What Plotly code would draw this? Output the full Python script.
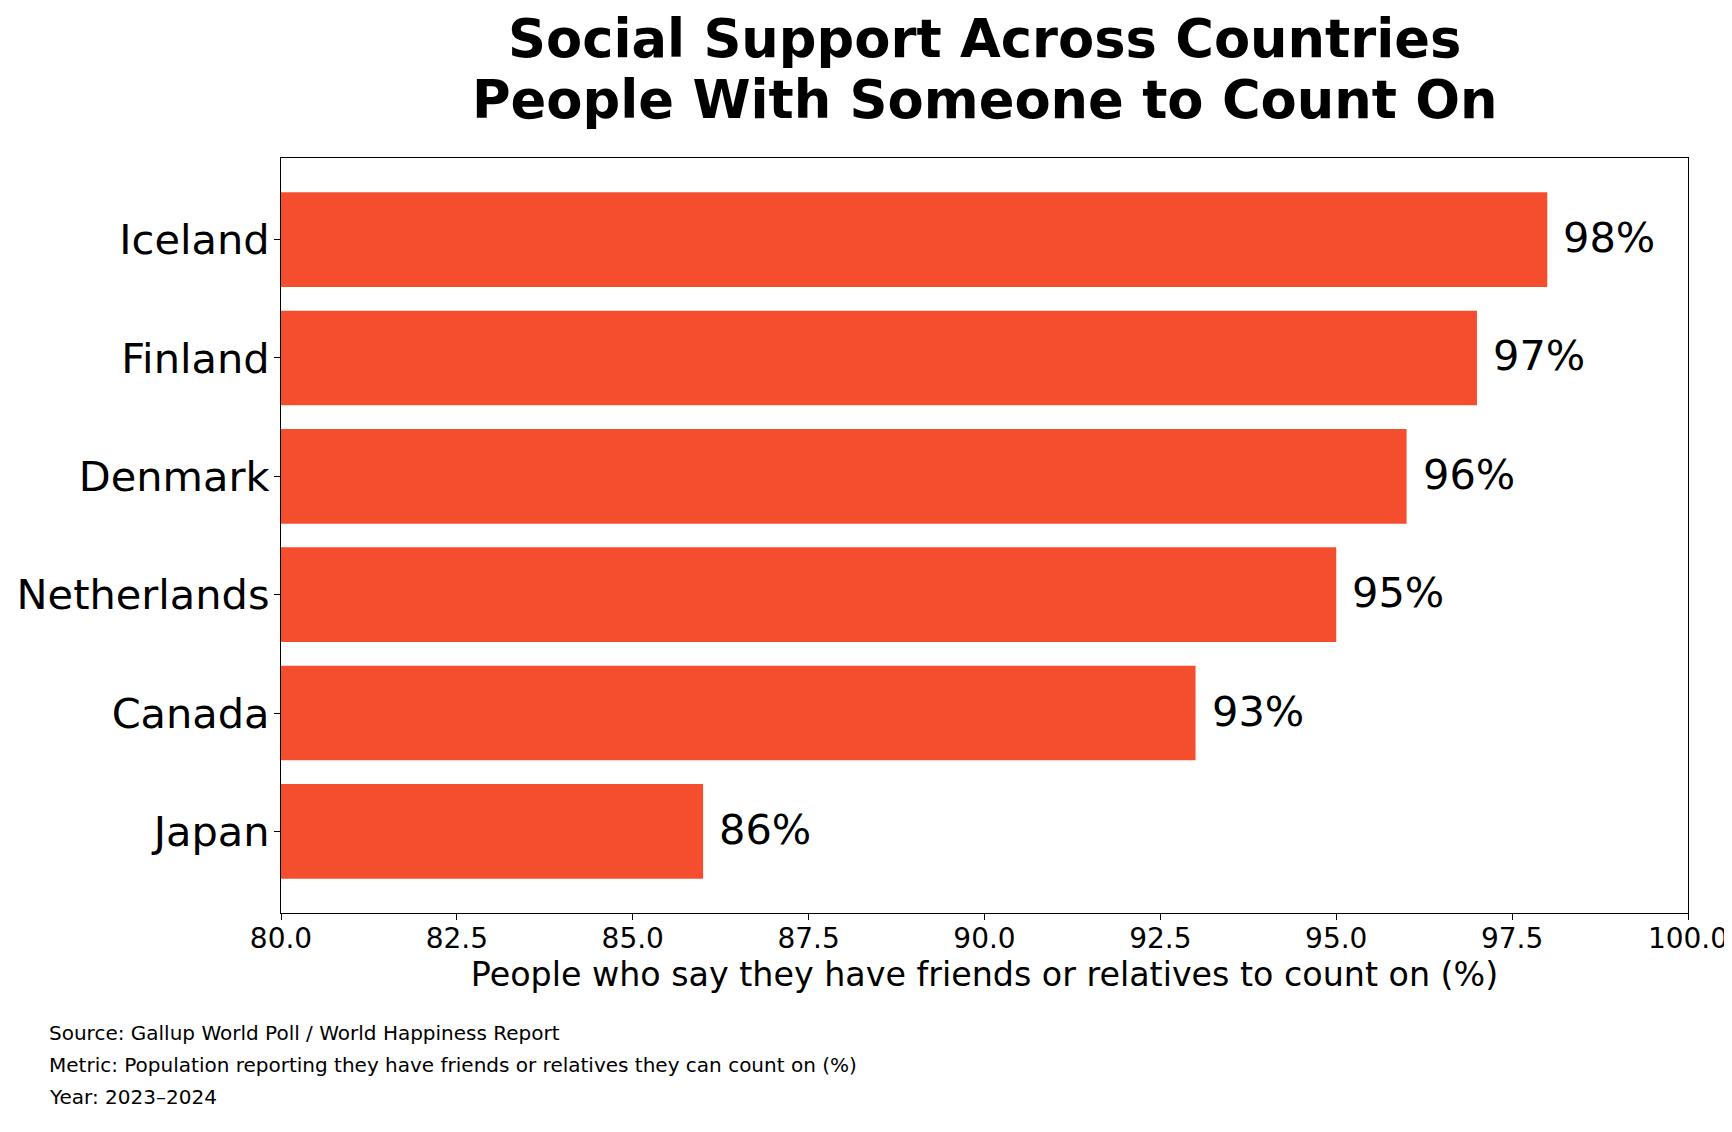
import plotly.graph_objects as go

# data
countries = ["Iceland", "Finland", "Denmark", "Netherlands", "Canada", "Japan"]
support_pct = [98, 97, 96, 95, 93, 86]
x_ticks = [80.0, 82.5, 85.0, 87.5, 90.0, 92.5, 95.0, 97.5, 100.0]
title_lines = ["Social Support Across Countries", "People With Someone to Count On"]
footer_lines = [
    "Source: Gallup World Poll / World Happiness Report",
    "Metric: Population reporting they have friends or relatives they can count on (%)",
    "Year: 2023\u20132024",
]

W, H = 1732, 1132
L, R, T, B = 273, 52, 150, 227
FONT = "DejaVu Sans"
BAR_COLOR = "#F44E2F"

plot_w = W - L - R
plot_h = H - T - B


def px_x(px):
    return (px - L) / plot_w


def px_y(py):
    return (H - B - py) / plot_h


fig = go.Figure()
fig.add_trace(go.Bar(
    x=support_pct,
    y=countries,
    orientation="h",
    width=0.8,
    marker=dict(color=BAR_COLOR, line=dict(width=0)),
    showlegend=False,
    hoverinfo="x+y",
))

# value labels to the right of each bar
for c, v in zip(countries, support_pct):
    fig.add_annotation(
        x=v, y=c, xref="x", yref="y",
        text=f"{v}%", showarrow=False,
        xanchor="left", yanchor="middle", xshift=14, yshift=2,
        font=dict(family=FONT, size=41.5, color="black"),
    )

# two-line bold title
title_y = [31, 92]
for line, ty in zip(title_lines, title_y):
    fig.add_annotation(
        x=px_x(976.5), y=px_y(ty), xref="paper", yref="paper",
        text=f"<b>{line}</b>", showarrow=False, xanchor="center", yanchor="middle",
        font=dict(family=FONT, size=52.7, color="black"),
    )

# footer notes
for i, line in enumerate(footer_lines):
    fig.add_annotation(
        x=px_x(39), y=px_y(1025 + i * 32), xref="paper", yref="paper",
        text=line, showarrow=False, xanchor="left", yanchor="middle",
        font=dict(family=FONT, size=20, color="black"),
    )

fig.update_layout(
    width=W, height=H,
    margin=dict(l=L, r=R, t=T, b=B, pad=0),
    paper_bgcolor="white",
    plot_bgcolor="white",
    font=dict(family=FONT, color="black"),
    bargap=0.2,
    xaxis=dict(
        range=[80, 100],
        automargin=False,
        tickmode="array",
        tickvals=x_ticks,
        ticktext=[f"{t:.1f}" for t in x_ticks],
        ticks="outside", ticklen=6, tickwidth=1.3, tickcolor="black",
        tickfont=dict(family=FONT, size=28, color="black"),
        ticklabelstandoff=-6,
        showline=True, linecolor="black", linewidth=1.3, mirror=True,
        showgrid=False, zeroline=False,
        title=dict(
            text="People who say they have friends or relatives to count on (%)",
            font=dict(family=FONT, size=33.3, color="black"),
            standoff=6,
        ),
    ),
    yaxis=dict(
        categoryorder="array",
        categoryarray=countries,
        range=[5.69, -0.69],
        automargin=False,
        ticks="outside", ticklen=6, tickwidth=1.3, tickcolor="black",
        tickfont=dict(family=FONT, size=41.5, color="black"),
        ticklabelstandoff=-4,
        showline=True, linecolor="black", linewidth=1.3, mirror=True,
        showgrid=False, zeroline=False,
    ),
)

fig.write_html("out.html")
